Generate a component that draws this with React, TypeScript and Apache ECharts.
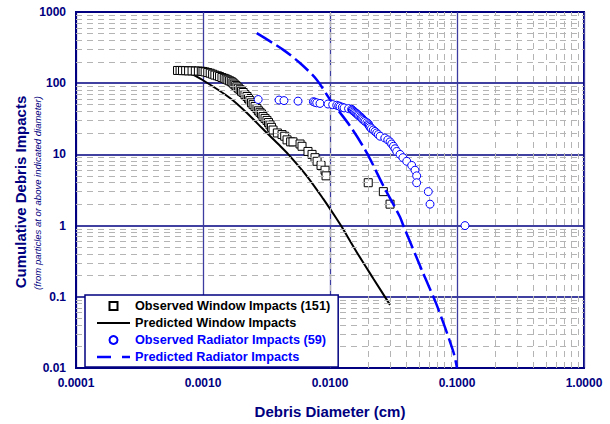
import React, { useEffect, useRef } from "react";
import * as echarts from "echarts";

// Observed window impacts (diameter cm, cumulative count)
const windowDiam = [0.00063, 0.00066, 0.00069, 0.00073, 0.00077, 0.00082, 0.00087, 0.00092, 0.00097, 0.001, 0.00104, 0.00109, 0.00114, 0.00119, 0.00124, 0.0013, 0.00135, 0.00141, 0.00147, 0.00152, 0.00157, 0.00162, 0.00167, 0.00172, 0.00176, 0.00181, 0.00185, 0.0019, 0.00196, 0.00201, 0.00207, 0.00214, 0.00222, 0.00228, 0.00234, 0.00241, 0.00248, 0.00257, 0.00266, 0.00273, 0.00281, 0.00289, 0.00297, 0.00308, 0.00319, 0.00328, 0.00337, 0.00346, 0.00356, 0.00385, 0.00419, 0.0044, 0.00459, 0.0049, 0.00511, 0.00581, 0.00602, 0.00671, 0.00722, 0.00762, 0.00791, 0.0085, 0.00914, 0.00931, 0.02, 0.0263, 0.0297];
const windowCount = [151, 151, 150, 150, 149, 149, 148, 148, 147, 146, 144, 141, 138, 134, 130, 127, 124, 120, 117, 114, 111, 108, 105, 101, 97, 93, 89, 85, 81, 77, 74, 69, 65, 61, 57, 53, 50, 47, 44, 41, 39, 37, 34, 32, 30, 28, 26, 24, 22, 20, 19, 18, 16, 15, 15, 14, 13, 11, 10, 9, 8, 7, 6, 5, 4, 3, 2];

// Observed radiator impacts
const radiatorDiam = [0.00272, 0.00397, 0.00434, 0.0056, 0.0074, 0.0076, 0.00786, 0.00834, 0.00964, 0.0105, 0.0113, 0.0117, 0.012, 0.0125, 0.0129, 0.014, 0.0148, 0.015, 0.0152, 0.0155, 0.0157, 0.016, 0.0163, 0.0166, 0.0168, 0.0172, 0.0176, 0.0178, 0.0181, 0.0185, 0.0189, 0.0195, 0.02, 0.0202, 0.0204, 0.0207, 0.0212, 0.0219, 0.0226, 0.0233, 0.024, 0.0248, 0.027, 0.0285, 0.0297, 0.0306, 0.0316, 0.0325, 0.0335, 0.0356, 0.0375, 0.0402, 0.044, 0.0467, 0.0481, 0.0481, 0.0594, 0.0613, 0.1156];
const radiatorCount = [59, 58, 57, 56, 55, 54, 53, 52, 51, 50, 49, 48, 47, 46, 45, 44, 43, 42, 41, 40, 39, 38, 37, 36, 35, 34, 33, 32, 31, 30, 29, 28, 27, 26, 25, 24, 23, 22, 21, 20, 19, 18, 17, 16, 15, 14, 13, 12, 11, 10, 9, 8, 7, 6, 5, 4, 3, 2, 1];

// Predicted window impacts
const predWindowDiam = [0.00075, 0.001, 0.00163, 0.00221, 0.00298, 0.00404, 0.0047, 0.00655, 0.00885, 0.0113, 0.0122, 0.0162, 0.0219, 0.0297];
const predWindowCount = [145, 110, 62, 38.5, 22.5, 13.2, 10, 5.0, 2.37, 1.24, 1.0, 0.427, 0.181, 0.077];

// Predicted radiator impacts
const predRadDiam = [0.00265, 0.00429, 0.0058, 0.00786, 0.01, 0.0144, 0.01945, 0.0263, 0.0355, 0.0378, 0.0543, 0.0692, 0.0935, 0.1];
const predRadCount = [504, 294, 192, 112, 59, 25, 10.6, 3.63, 1.33, 1.0, 0.212, 0.077, 0.017, 0.01];

const seriesNames = [
  "Observed Window Impacts (151)",
  "Predicted Window Impacts",
  "Observed Radiator Impacts (59)",
  "Predicted Radiator Impacts",
];

const xDecades = [-4, -3, -2, -1];
const yDecades = [-2, -1, 0, 1, 2];
const minorSteps = [2, 3, 4, 5, 6, 7, 8, 9];

const NAVY = "#000080";
const BLUE = "#0000ff";
const FONT = '"Liberation Sans", Arial, sans-serif';

const zip = (a: number[], b: number[]) => a.map((v, i) => [v, b[i]]);

export default function App() {
  const ref = useRef<HTMLDivElement>(null);
  useEffect(() => {
    if (!ref.current) return;
    const chart = echarts.init(ref.current, undefined, { renderer: "svg" });
    const minorX: any[] = [];
    xDecades.forEach((e) => minorSteps.forEach((k) => minorX.push({ xAxis: k * Math.pow(10, e) })));
    const minorY: any[] = [];
    yDecades.forEach((e) => minorSteps.forEach((k) => minorY.push({ yAxis: k * Math.pow(10, e) })));

    chart.setOption({
      animation: false,
      backgroundColor: "#fff",
      textStyle: { fontFamily: FONT },
      grid: {
        left: 76,
        right: 26,
        top: 12,
        bottom: 54,
        show: true,
        borderColor: NAVY,
        borderWidth: 2,
        backgroundColor: "#fff",
      },
      xAxis: {
        type: "log",
        logBase: 10,
        min: 0.0001,
        max: 1,
        name: "Debris Diameter (cm)",
        nameLocation: "middle",
        nameGap: 36,
        nameTextStyle: { color: NAVY, fontWeight: "bold", fontSize: 15, fontFamily: FONT },
        axisLine: { show: true, lineStyle: { color: NAVY, width: 2 } },
        axisTick: { show: false },
        axisLabel: {
          color: NAVY,
          fontWeight: "bold",
          fontSize: 12,
          fontFamily: FONT,
          margin: 9,
          formatter: (v: number) => v.toFixed(4),
        },
        splitLine: { show: true, lineStyle: { color: "#3c3ca0", width: 1.3 } },
      },
      yAxis: {
        type: "log",
        logBase: 10,
        min: 0.01,
        max: 1000,
        axisLine: { show: true, lineStyle: { color: NAVY, width: 2 } },
        axisTick: { show: false },
        axisLabel: {
          color: NAVY,
          fontWeight: "bold",
          fontSize: 12,
          fontFamily: FONT,
          margin: 10,
          formatter: (v: number) => String(+v.toPrecision(1)),
        },
        splitLine: { show: true, lineStyle: { color: NAVY, width: 1.6 } },
      },
      legend: {
        orient: "vertical",
        left: 85,
        top: 295,
        backgroundColor: "#fff",
        borderColor: NAVY,
        borderWidth: 1.5,
        padding: [4, 8, 3, 12],
        itemWidth: 33,
        itemHeight: 8,
        itemGap: 3,
        symbolKeepAspect: true,
        textStyle: { fontWeight: "bold", fontSize: 12.7, fontFamily: FONT, lineHeight: 14 },
        data: [
          {
            name: seriesNames[0],
            icon: "path://M0,0H8V8H0Z",
            textStyle: { color: "#000" },
          },
          {
            name: seriesNames[1],
            icon: "path://M0,0H33V2.2H0Z",
            itemStyle: { color: "#000", borderWidth: 0 },
            textStyle: { color: "#000" },
          },
          {
            name: seriesNames[2],
            icon: "circle",
            textStyle: { color: BLUE },
          },
          {
            name: seriesNames[3],
            icon: "path://M0,0H14V2.6H0Z M25,0H33V2.6H25Z",
            itemStyle: { color: BLUE, borderWidth: 0 },
            textStyle: { color: BLUE },
          },
        ],
        z: 10,
      },
      graphic: [
        {
          type: "text",
          x: 20,
          y: 192,
          rotation: Math.PI / 2,
          style: {
            text: "Cumulative Debris Impacts",
            align: "center",
            verticalAlign: "middle",
            font: `bold 15px ${FONT}`,
            fill: NAVY,
          },
        },
        {
          type: "text",
          x: 37,
          y: 193,
          rotation: Math.PI / 2,
          style: {
            text: "(from particles at or above indicated diameter)",
            align: "center",
            verticalAlign: "middle",
            font: `italic 9.5px ${FONT}`,
            fill: NAVY,
          },
        },
      ],
      series: [
        {
          name: "minor-grid",
          type: "line",
          data: [],
          silent: true,
          z: 1,
          markLine: {
            silent: true,
            symbol: ["none", "none"],
            label: { show: false },
            animation: false,
            lineStyle: { color: "#b4b4b4", width: 1, type: [6, 5] },
            data: [...minorX, ...minorY],
          },
        },
        {
          name: seriesNames[1],
          type: "line",
          data: zip(predWindowDiam, predWindowCount),
          symbol: "none",
          smooth: 0.3,
          lineStyle: { color: "#000", width: 2 },
          itemStyle: { color: "#000" },
          z: 3,
        },
        {
          name: seriesNames[0],
          type: "scatter",
          data: zip(windowDiam, windowCount),
          symbol: "rect",
          symbolSize: 8,
          itemStyle: { color: "#fff", borderColor: "#000", borderWidth: 1, opacity: 1 },
          z: 4,
        },
        {
          name: seriesNames[3],
          type: "line",
          data: zip(predRadDiam, predRadCount),
          symbol: "none",
          smooth: 0.3,
          lineStyle: { color: BLUE, width: 2.5, type: [18, 5] },
          itemStyle: { color: BLUE },
          z: 5,
        },
        {
          name: seriesNames[2],
          type: "scatter",
          data: zip(radiatorDiam, radiatorCount),
          symbol: "circle",
          symbolSize: 8,
          itemStyle: { color: "#fff", borderColor: BLUE, borderWidth: 1, opacity: 1 },
          z: 6,
        },
      ],
    });
    return () => chart.dispose();
  }, []);
  return (
    <div
      ref={ref}
      style={{ position: "fixed", left: 0, top: 0, width: 610, height: 424 }}
    />
  );
}
